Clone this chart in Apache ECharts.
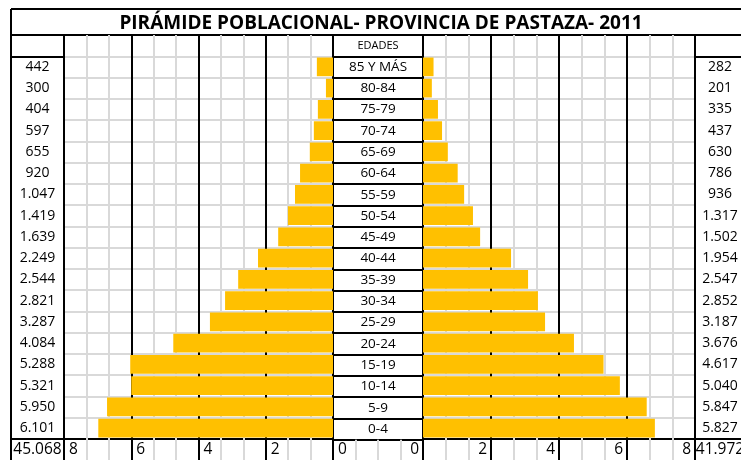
<!DOCTYPE html>
<html>
<head>
<meta charset="utf-8">
<script src="https://cdn.jsdelivr.net/npm/echarts@6/dist/echarts.min.js"></script>
<style>html,body{margin:0;padding:0;background:#fff}#chart{width:741px;height:460px}</style>
</head>
<body>
<div id="chart"></div>
<script>
(function() {
// ── Datos (de abajo hacia arriba: 0-4 ... 85 Y MÁS) ──
const edades = ['0-4', '5-9', '10-14', '15-19', '20-24', '25-29', '30-34', '35-39', '40-44',
  '45-49', '50-54', '55-59', '60-64', '65-69', '70-74', '75-79', '80-84', '85 Y MÁS'];
const hombres = [6101, 5950, 5321, 5288, 4084, 3287, 2821, 2544, 2249, 1639, 1419, 1047, 920, 655, 597, 404, 300, 442];
const mujeres = [5827, 5847, 5040, 4617, 3676, 3187, 2852, 2547, 1954, 1502, 1317, 936, 786, 630, 437, 335, 201, 282];
const totalHombres = 45068, totalMujeres = 41972;
// largo de las barras (%)
const barrasHombres = [6.98, 6.72, 6.0, 6.03, 4.75, 3.66, 3.21, 2.82, 2.23, 1.63, 1.34, 1.13, 0.98, 0.69, 0.57, 0.45, 0.21, 0.48];
const barrasMujeres = [6.82, 6.58, 5.79, 5.31, 4.44, 3.59, 3.38, 3.09, 2.59, 1.68, 1.47, 1.21, 1.02, 0.73, 0.56, 0.44, 0.26, 0.31];
const marcas = [0, 2, 4, 6, 8];
const titulo = 'PIRÁMIDE POBLACIONAL- PROVINCIA DE PASTAZA- 2011';

// ── Estilo ──
const NEGRO = '#000', GRIS = '#d9d9d9', ORO = '#ffc000', NADA = 'rgba(0,0,0,0)';
const FUENTE = '"Open Sans", "Liberation Sans", sans-serif';
const fmt = n => String(n).replace(/\B(?=(\d{3})+(?!\d))/g, '.');

// filas: fila del eje (totales) + edades + cabecera
const filas = [{ value: 'total', textStyle: { fontSize: 15.5, align: 'center' } }, ...edades, 'cab'];
const etqH = [fmt(totalHombres), ...hombres.map(fmt), ''];
const etqM = [fmt(totalMujeres), ...mujeres.map(fmt), ''];
const FILA = 21.3, TOP = 35, ALTO = FILA * 20;

const colsGrafico = [NADA, NEGRO, ...Array(18).fill(GRIS), NEGRO];
const colsNumeros = [NADA, NEGRO, ...Array(17).fill(NADA), NEGRO, NEGRO];
const colsCentro = Array(20).fill(NEGRO);

const oculto = { show: false };
const linea = (color, extra) => Object.assign({ show: true, lineStyle: { color: color, width: 2 } }, extra || {});

function ejeValor(grid, o) {
  return Object.assign({
    type: 'value', gridIndex: grid, min: 0, max: 1, interval: 1,
    axisLine: oculto, axisTick: oculto, axisLabel: oculto, splitLine: oculto
  }, o);
}
function ejeCat(grid, data, o) {
  return Object.assign({
    type: 'category', gridIndex: grid, data: data,
    axisLine: oculto, axisTick: oculto, axisLabel: oculto, splitLine: oculto
  }, o);
}

const etqEje = {
  show: true, inside: true, margin: 10.5, verticalAlign: 'middle',
  showMinLabel: true, showMaxLabel: true,
  color: NEGRO, fontFamily: FUENTE, fontSize: 15.5
};
const etqNum = { show: true, inside: true, align: 'center', color: NEGRO, fontFamily: FUENTE, fontSize: 14 };

const chart = echarts.init(document.getElementById('chart'));
chart.setOption({
  animation: false,
  backgroundColor: '#fff',
  title: {
    text: titulo, left: 376, top: 9, textAlign: 'center',
    textStyle: { fontFamily: FUENTE, fontSize: 19, fontWeight: 'bold', color: NEGRO }
  },
  grid: [
    { left: 11, top: 9, right: -40, height: 26 },           // 0 título
    { left: 11, top: TOP, width: 53, height: ALTO },        // 1 números hombres
    { left: 64, top: TOP, width: 269, height: ALTO },       // 2 barras hombres
    { left: 333, top: TOP, width: 90, height: FILA * 19 },  // 3 edades
    { left: 333, top: TOP + FILA * 19, width: 90, height: FILA }, // 4 fila del eje, centro
    { left: 423, top: TOP, width: 272, height: ALTO },      // 5 barras mujeres
    { left: 695, top: TOP, right: -40, height: ALTO }       // 6 números mujeres
  ],
  xAxis: [
    ejeValor(0, { splitLine: linea(NEGRO, { showMaxLine: false }) }),
    ejeValor(1, { splitLine: linea(NEGRO, { showMaxLine: false }) }),
    ejeValor(2, {
      inverse: true, min: marcas[0], max: marcas[marcas.length - 1], interval: marcas[1] - marcas[0],
      axisLabel: Object.assign({}, etqEje, { align: 'left', padding: [0, 0, 0, 5] }),
      splitLine: linea(NEGRO),
      minorTick: { show: false, splitNumber: 3 },
      minorSplitLine: { show: true, lineStyle: { color: GRIS, width: 2 } }
    }),
    ejeValor(3),
    ejeValor(4, { max: 4, interval: 1, splitLine: linea(GRIS, { showMinLine: false, showMaxLine: false }) }),
    ejeValor(5, {
      min: marcas[0], max: marcas[marcas.length - 1], interval: marcas[1] - marcas[0],
      axisLabel: Object.assign({}, etqEje, { align: 'right', padding: [0, 4, 0, 0] }),
      splitLine: linea(NEGRO),
      minorTick: { show: false, splitNumber: 3 },
      minorSplitLine: { show: true, lineStyle: { color: GRIS, width: 2 } }
    }),
    ejeValor(6)
  ],
  yAxis: [
    ejeCat(0, ['t'], { splitLine: linea(NEGRO) }),
    ejeCat(1, filas, {
      position: 'left',
      axisLabel: Object.assign({}, etqNum, { margin: 26.5, formatter: (v, i) => etqH[i] }),
      splitLine: linea(colsNumeros)
    }),
    ejeCat(2, filas, { splitLine: linea(colsGrafico) }),
    ejeCat(3, [...edades, { value: 'EDADES', textStyle: { fontSize: 11, align: 'center' } }], {
      position: 'left',
      axisLabel: Object.assign({}, etqNum, { margin: 45, fontSize: 13.5 }),
      splitLine: linea(colsCentro)
    }),
    ejeCat(4, ['e']),
    ejeCat(5, filas, { splitLine: linea(colsGrafico) }),
    ejeCat(6, filas, {
      position: 'left',
      axisLabel: Object.assign({}, etqNum, { margin: 25, formatter: (v, i) => etqM[i] }),
      splitLine: linea(colsNumeros)
    })
  ],
  series: [
    { name: 'Hombres', type: 'bar', xAxisIndex: 2, yAxisIndex: 2, barCategoryGap: '12%',
      itemStyle: { color: ORO }, data: ['-', ...barrasHombres, '-'] },
    { name: 'Mujeres', type: 'bar', xAxisIndex: 5, yAxisIndex: 5, barCategoryGap: '12%',
      itemStyle: { color: ORO }, data: ['-', ...barrasMujeres, '-'] }
  ]
});
})();
</script>
</body>
</html>
